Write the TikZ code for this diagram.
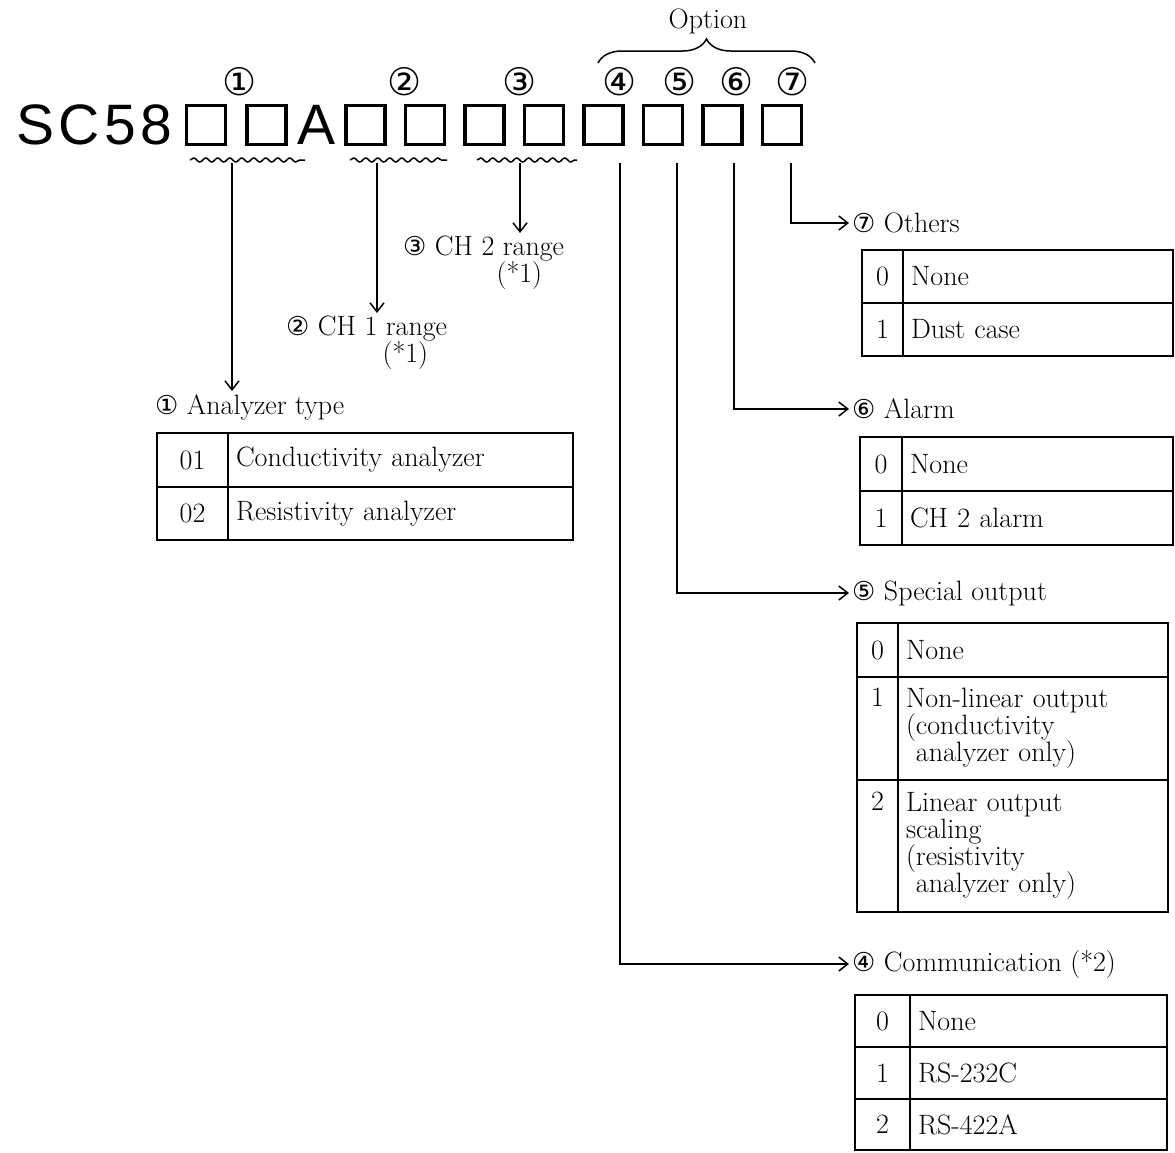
\documentclass[tikz,border=0pt]{standalone}
\usepackage{fontspec}
\usepackage{tikz}
\usetikzlibrary{arrows.meta, positioning, decorations.pathmorphing, decorations.pathreplacing}
\newfontfamily\codefont{Liberation Sans}[LetterSpace=8]
\newfontfamily\encfont{DejaVu Sans}
\newcommand{\cnum}[1]{{\encfont\fontsize{26}{27}\selectfont #1}}

\begin{document}
\begin{tikzpicture}[x=1pt, y=-1pt,
  every node/.style={font={\fontsize{28}{27}\selectfont\lineskiplimit=-100pt}},
  slot/.style={rectangle, draw, line width=3.5pt, minimum width=39pt,
    minimum height=39pt, inner sep=0pt},
  code/.style={inner sep=0pt, font=\codefont\fontsize{57}{58}\selectfont},
  digit/.style={inner sep=0pt, font=\encfont\fontsize{38}{40}\selectfont},
  lbl/.style={inner sep=3pt, anchor=west},
  numcell/.style={rectangle, draw, line width=2pt, outer sep=0pt,
    anchor=north west, minimum width=#1, inner sep=0pt, align=center},
  txtcell/.style={rectangle, draw, line width=2pt, outer sep=0pt,
    text width=#1, inner xsep=8pt, inner ysep=0pt, align=left},
  arrow/.style={-{Straight Barb[length=9pt, width=14pt]}, line width=1.5pt},
  wavy/.style={decorate, decoration={snake, amplitude=2pt, segment length=12pt},
    line width=1.5pt},
  brace/.style={decorate, decoration={brace, amplitude=24pt}, line width=1.5pt}
]
\useasboundingbox (0,0) rectangle (1175,1152);

%% Model code — SC58 + slots
\node[slot] (b1) at (206,125) {};
\node[code, left=12pt of b1] (sc) {SC58};
\node[slot, right=18pt of b1] (b2) {};
\node[code, right=10pt of b2] (A) {A};
\node[slot, right=8pt of A]  (b3) {};
\node[slot, right=17pt of b3] (b4) {};
\node[slot, right=17pt of b4] (b5) {};
\node[slot, right=17pt of b5] (b6) {};
\node[slot, right=17pt of b6] (b7) {};
\node[slot, right=17pt of b7] (b8) {};
\node[slot, right=17pt of b8] (b9) {};
\node[slot, right=17pt of b9] (b10) {};

%% Item numbers
\node[digit] (n1) at (240,82) {①};
\node[digit] (n2) at (405,82) {②};
\node[digit] (n3) at (520,82) {③};
\node[digit] (n4) at (620,82) {④};
\node[digit] (n5) at (680,82) {⑤};
\node[digit] (n6) at (737,82) {⑥};
\node[digit] (n7) at (793,82) {⑦};

%% Option brace
\node (opt) at (708,21) {Option};
\draw[brace] (598,63) -- (815,63);

%% Wavy underlines
\draw[wavy] (190,160) -- (305,160);
\draw[wavy] (350,160) -- (447,160);
\draw[wavy] (477,160) -- (577,160);

%% Line starts
\coordinate (w1) at (232,163);
\coordinate (w2) at (377,163);
\coordinate (w3) at (520,163);
\coordinate (s4) at (620,163);
\coordinate (s5) at (677,163);
\coordinate (s6) at (734,163);
\coordinate (s7) at (791,163);

%% Labels
\node[lbl] (lab1) at (152,407) {\cnum{①} Analyzer type};
\node[lbl, anchor=north west, align=right] (lab2) at (283,313)
  {\cnum{②} CH 1 range\\(*1)\hspace*{19pt}};
\node[lbl, anchor=north west, align=right] (lab3) at (400,233)
  {\cnum{③} CH 2 range\\(*1)\hspace*{22pt}};
\node[lbl] (lab7) at (849,223) {\cnum{⑦} Others};
\node[lbl] (lab6) at (849,409) {\cnum{⑥} Alarm};
\node[lbl] (lab5) at (849,593) {\cnum{⑤} Special output};
\node[lbl] (lab4) at (849,964) {\cnum{④} Communication (*2)};

%% Analyzer type table
\node[numcell=71pt, minimum height=54pt] (ta1) at (157,433) {01};
\node[txtcell=329pt, minimum height=54pt, right=0pt of ta1] (tb1) {Conductivity analyzer};
\node[numcell=71pt, minimum height=53pt, below=0pt of ta1] (ta2) {02};
\node[txtcell=329pt, minimum height=53pt, right=0pt of ta2] (tb2) {Resistivity analyzer};

%% Others table
\node[numcell=41pt, minimum height=53pt] (toa1) at (862,250) {0};
\node[txtcell=254pt, minimum height=53pt, right=0pt of toa1] (tob1) {None};
\node[numcell=41pt, minimum height=53pt, below=0pt of toa1] (toa2) {1};
\node[txtcell=254pt, minimum height=53pt, right=0pt of toa2] (tob2) {Dust case};

%% Alarm table
\node[numcell=42pt, minimum height=54pt] (tla1) at (860,437) {0};
\node[txtcell=255pt, minimum height=54pt, right=0pt of tla1] (tlb1) {None};
\node[numcell=42pt, minimum height=54pt, below=0pt of tla1] (tla2) {1};
\node[txtcell=255pt, minimum height=54pt, right=0pt of tla2] (tlb2) {CH 2 alarm};

%% Special output table
\node[numcell=41pt, minimum height=54pt] (tsa1) at (857,623) {0};
\node[txtcell=254pt, minimum height=54pt, right=0pt of tsa1] (tsb1) {None};
\node[numcell=41pt, minimum height=103pt, below=0pt of tsa1] (tsa2) {1\\~\\\strut};
\node[txtcell=254pt, minimum height=103pt, right=0pt of tsa2] (tsb2)
  {Non-linear output\\(conductivity\\\phantom{(}analyzer only)};
\node[numcell=41pt, minimum height=132pt, below=0pt of tsa2] (tsa3) {2\\~\\~\\\strut};
\node[txtcell=254pt, minimum height=132pt, right=0pt of tsa3] (tsb3)
  {Linear output\\scaling\\(resistivity\\\phantom{(}analyzer only)};

%% Communication table
\node[numcell=55pt, minimum height=52pt] (tca1) at (855,995) {0};
\node[txtcell=241pt, minimum height=52pt, right=0pt of tca1] (tcb1) {None};
\node[numcell=55pt, minimum height=52pt, below=0pt of tca1] (tca2) {1};
\node[txtcell=241pt, minimum height=52pt, right=0pt of tca2] (tcb2) {RS-232C};
\node[numcell=55pt, minimum height=51pt, below=0pt of tca2] (tca3) {2};
\node[txtcell=241pt, minimum height=51pt, right=0pt of tca3] (tcb3) {RS-422A};

%% Arrows
\draw[arrow] (w1) -- (w1 |- lab1.north);
\draw[arrow] (w2) -- (w2 |- lab2.north);
\draw[arrow] (w3) -- (w3 |- lab3.north);
\draw[arrow] (s7) |- (lab7.west);
\draw[arrow] (s6) |- (lab6.west);
\draw[arrow] (s5) |- (lab5.west);
\draw[arrow] (s4) |- (lab4.west);

\end{tikzpicture}
\end{document}
